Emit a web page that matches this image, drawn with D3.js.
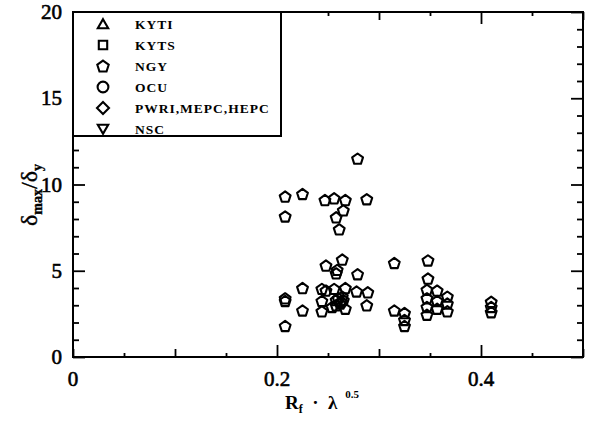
<!DOCTYPE html>
<html>
<head>
<meta charset="utf-8">
<script src="https://cdn.jsdelivr.net/npm/d3@7/dist/d3.min.js"></script>
<style>
  html, body { margin: 0; padding: 0; background: #fff; }
  svg { display: block; }
  text { font-family: "Liberation Serif", "DejaVu Serif", serif; fill: #000; }
</style>
</head>
<body>
<svg id="chart" width="592" height="424"></svg>
<script>
// Legend series (only NGY has measured points on this plot)
const seriesNames = ["KYTI", "KYTS", "NGY", "OCU", "PWRI,MEPC,HEPC", "NSC"];
const seriesShapes = ["triangle", "square", "pentagon", "circle", "diamond", "triangleDown"];

// NGY specimens: R_f * lambda^0.5 and ductility ratio delta_max / delta_y
const ngyX = [
  0.279, 0.208, 0.225, 0.247, 0.256, 0.267, 0.288, 0.265, 0.258, 0.261, 0.208,
  0.264, 0.248, 0.259, 0.258, 0.279,
  0.225, 0.244, 0.248, 0.256, 0.267, 0.278, 0.289,
  0.208, 0.208, 0.244, 0.258, 0.263, 0.260, 0.262, 0.265, 0.258, 0.264, 0.288,
  0.225, 0.244, 0.254, 0.267, 0.208,
  0.315, 0.348, 0.348, 0.347, 0.357, 0.347, 0.357, 0.347, 0.357, 0.347,
  0.367, 0.367, 0.367, 0.315, 0.325, 0.325, 0.325,
  0.410, 0.410, 0.410
];
const ngyY = [
  11.5, 9.3, 9.45, 9.1, 9.2, 9.1, 9.15, 8.5, 8.1, 7.4, 8.15,
  5.65, 5.3, 5.05, 4.85, 4.8,
  4.0, 3.95, 3.85, 3.95, 4.0, 3.8, 3.75,
  3.4, 3.25, 3.25, 3.3, 3.2, 3.4, 3.1, 3.3, 3.0, 3.5, 3.0,
  2.7, 2.65, 2.9, 2.8, 1.8,
  5.45, 5.6, 4.55, 3.9, 3.85, 3.4, 3.25, 2.9, 2.8, 2.45,
  3.5, 3.1, 2.65, 2.7, 2.55, 2.15, 1.8,
  3.2, 2.9, 2.6
];

const xDomain = [0, 0.5];
const yDomain = [0, 20];
const xTickLabels = [0, 0.2, 0.4];
const yTickLabels = [0, 5, 10, 15, 20];

const svg = d3.select("#chart");
const plotL = 73, plotR = 583, plotT = 12, plotB = 357;

const x = d3.scaleLinear().domain(xDomain).range([plotL, plotR]);
const y = d3.scaleLinear().domain(yDomain).range([plotB, plotT]);

const frame = svg.append("g");
const near = (a, b) => Math.abs(a - b) < 1e-6;
// Tick length along x: labelled ticks longest, tenths medium, twentieths short
const xTickLen = d => xTickLabels.some(t => t > 0 && near(t, d)) ? 12
  : near(Math.round(d * 10), d * 10) ? 8 : 4;

const xMinor = d3.range(0, 0.5001, 0.05);
const gx = frame.append("g").attr("transform", `translate(0,${plotB})`)
  .call(d3.axisBottom(x).tickValues(xMinor).tickSizeOuter(0).tickFormat(""));
gx.selectAll(".tick line").attr("y2", d => -xTickLen(d));
const gxt = frame.append("g").attr("transform", `translate(0,${plotT})`)
  .call(d3.axisTop(x).tickValues(xMinor).tickSizeOuter(0).tickFormat(""));
gxt.selectAll(".tick line").attr("y2", d => xTickLen(d));

// Vertical axes, minor tick every 1
const yMinor = d3.range(0, 20.001, 1);
const gy = frame.append("g").attr("transform", `translate(${plotL},0)`)
  .call(d3.axisLeft(y).tickValues(yMinor).tickSizeOuter(0).tickFormat(""));
gy.selectAll(".tick line").attr("x2", d => d % 5 === 0 ? 12 : 6);
const gyr = frame.append("g").attr("transform", `translate(${plotR},0)`)
  .call(d3.axisRight(y).tickValues(yMinor).tickSizeOuter(0).tickFormat(""));
gyr.selectAll(".tick line").attr("x2", d => d % 5 === 0 ? -12 : -6);

frame.selectAll(".domain").remove();
frame.selectAll(".tick line").attr("stroke", "#000").attr("stroke-width", 1.8);

// Plot frame
svg.append("rect")
  .attr("x", plotL).attr("y", plotT)
  .attr("width", plotR - plotL).attr("height", plotB - plotT)
  .attr("fill", "none").attr("stroke", "#000").attr("stroke-width", 2);

// Tick labels (regular serif, slightly heavy)
svg.append("g").selectAll("text").data(xTickLabels).join("text")
  .attr("x", d => x(d)).attr("y", plotB + 29)
  .attr("text-anchor", "middle")
  .style("font-size", "21px").attr("stroke", "#000").attr("stroke-width", 0.6)
  .text(d => d === 0 ? "0" : d3.format(".1f")(d));

svg.append("g").selectAll("text").data(yTickLabels).join("text")
  .attr("x", plotL - 11).attr("y", d => y(d) + 7)
  .attr("text-anchor", "end")
  .style("font-size", "21px").attr("stroke", "#000").attr("stroke-width", 0.6)
  .text(d => d);

// Axis titles
const xt = svg.append("text")
  .attr("x", 322).attr("y", 409)
  .attr("text-anchor", "middle")
  .attr("xml:space", "preserve")
  .style("font-size", "19px").style("font-weight", "bold");
xt.append("tspan").text("R");
xt.append("tspan").attr("dy", 4).style("font-size", "12px").text("f");
xt.append("tspan").attr("dy", -4).text("  \u00b7  \u03bb ");
xt.append("tspan").attr("dy", -11).attr("dx", 3).style("font-size", "11px").text("0.5");

const yt = svg.append("text")
  .attr("transform", "translate(37,195) rotate(-90)")
  .attr("text-anchor", "middle")
  .style("font-size", "24px").attr("stroke", "#000").attr("stroke-width", 0.4);
yt.append("tspan").text("\u03b4");
yt.append("tspan").attr("dy", 5).style("font-size", "14px").style("font-weight", "bold").text("max");
yt.append("tspan").attr("dy", -5).text("/\u03b4");
yt.append("tspan").attr("dy", 5).style("font-size", "14px").style("font-weight", "bold").text("y");

// Marker shapes
function shapePath(kind, r) {
  const poly = (n, rot) => d3.range(n).map(i => {
    const a = rot + i * 2 * Math.PI / n;
    return [r * Math.sin(a), -r * Math.cos(a)];
  });
  let pts;
  switch (kind) {
    case "triangle": pts = poly(3, 0).map(p => [p[0], p[1] + r * 0.2]); break;
    case "triangleDown": pts = poly(3, Math.PI).map(p => [p[0], p[1] - r * 0.2]); break;
    case "square": { const s = r * 0.7; pts = [[-s, -s], [s, -s], [s, s], [-s, s]]; break; }
    case "diamond": pts = poly(4, 0); break;
    case "pentagon": pts = poly(5, 0).map(p => [p[0], p[1] + r * 0.1]); break;
    case "circle": return d3.arc()({innerRadius: 0, outerRadius: r * 0.9, startAngle: 0, endAngle: 2 * Math.PI});
  }
  return "M" + pts.map(p => p.join(",")).join("L") + "Z";
}

// Data points
svg.append("g").selectAll("path").data(ngyX.map((v, i) => [v, ngyY[i]])).join("path")
  .attr("transform", d => `translate(${x(d[0])},${y(d[1])})`)
  .attr("d", shapePath("pentagon", 5.7))
  .attr("fill", "none")
  .attr("stroke", "#000").attr("stroke-width", 2.1)
  .attr("stroke-linejoin", "round");

// Legend box
const legend = svg.append("g");
legend.append("rect")
  .attr("x", plotL).attr("y", plotT)
  .attr("width", 281 - plotL).attr("height", 136 - plotT)
  .attr("fill", "#fff").attr("stroke", "#000").attr("stroke-width", 2);
const rows = legend.selectAll("g.row").data(seriesNames).join("g")
  .attr("transform", (d, i) => `translate(0,${24 + i * 21})`);
rows.append("path")
  .attr("transform", "translate(103,0)")
  .attr("d", (d, i) => shapePath(seriesShapes[i], 6))
  .attr("fill", "none").attr("stroke", "#000").attr("stroke-width", 2.1);
rows.append("text")
  .attr("x", 135).attr("y", 5)
  .style("font-size", "13.5px").style("font-weight", "bold").style("letter-spacing", "1px")
  .text(d => d);
</script>
</body>
</html>
